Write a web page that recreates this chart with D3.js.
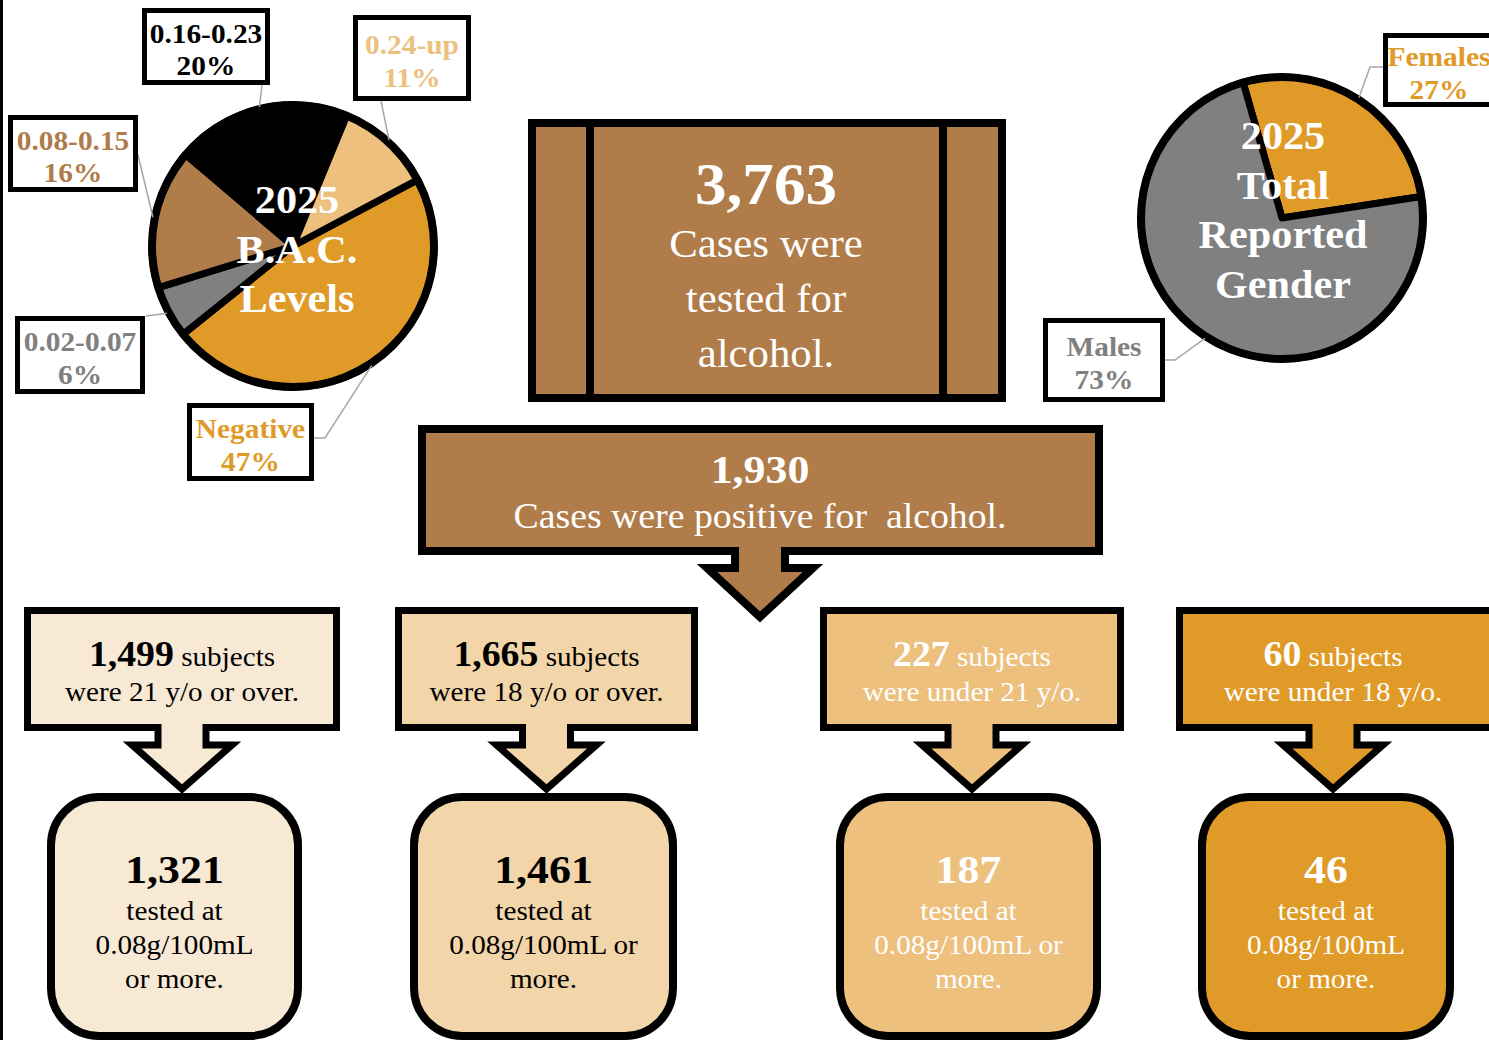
<!DOCTYPE html>
<html>
<head>
<meta charset="utf-8">
<script src="https://cdn.jsdelivr.net/npm/d3@7"></script>
<style>
	body { margin: 0; background: #fff; }
	svg text { font-family: "Liberation Serif", "Times New Roman", serif; }
</style>
</head>
<body>
<div id="chart"></div>
<script>
var width = 1489;
var height = 1040;

// pie data
var bacLabels = ["Negative", "0.02-0.07", "0.08-0.15", "0.16-0.23", "0.24-up"];
var bacValues = [47, 6, 16, 20, 11];
var genderLabels = ["Females", "Males"];
var genderValues = [27, 73];

// flow data
var totalTested = 3763;
var totalPositive = 1930;
var groupCounts = [1499, 1665, 227, 60];
var groupText = ["were 21 y/o or over.", "were 18 y/o or over.", "were under 21 y/o.", "were under 18 y/o."];
var overLimitCounts = [1321, 1461, 187, 46];
var overLimitText = [
	["tested at", "0.08g/100mL", "or more."],
	["tested at", "0.08g/100mL or", "more."],
	["tested at", "0.08g/100mL or", "more."],
	["tested at", "0.08g/100mL", "or more."],
];

// styles
var brown = "#B07C4A";
var orange = "#E09A28";
var tan = "#EDC07E";
var lightTan = "#F2D5A8";
var paleTan = "#F8E9D5";
var grey = "#808080";

var bacColors = d3.scaleOrdinal().domain(bacLabels).range([orange, grey, brown, "#000000", tan]);
var genderColors = d3.scaleOrdinal().domain(genderLabels).range([orange, grey]);
var fmt = d3.format(",");

var svg = d3
	.select("#chart")
	.append("svg")
	.attr("width", width)
	.attr("height", height);

svg.append("rect").attr("x", 0).attr("y", 0).attr("width", 3).attr("height", height).attr("fill", "#000");

// text is a bit wider in the original, so stretch horizontally
function addText(x, y, sx) {
	return svg
		.append("g")
		.attr("transform", `translate(${x},${y}) scale(${sx},1)`)
		.append("text")
		.attr("x", 0)
		.attr("y", 0)
		.attr("text-anchor", "middle");
}

// label box layout for the pies
var bacBoxes = {
	"0.16-0.23": { x: 142, y: 8, w: 128, h: 77, ax: 262, ay: 85 },
	"0.24-up": { x: 353, y: 15, w: 118, h: 86, ax: 381, ay: 101 },
	"0.08-0.15": { x: 8, y: 115, w: 130, h: 77, ax: 138, ay: 155 },
	"0.02-0.07": { x: 15, y: 316, w: 130, h: 78, ax: 146, ay: 316 },
	"Negative": { x: 187, y: 403, w: 127, h: 78, ax: 314, ay: 438, ex: 11 },
};
var genderBoxes = {
	"Females": { x: 1383, y: 33, w: 122, h: 74, ax: 1383, ay: 67, ex: -13, tx: 1439 },
	"Males": { x: 1043, y: 318, w: 122, h: 84, ax: 1165, ay: 360, ex: 10 },
};

function drawPie(cx, cy, r, labels, values, color, startDeg, boxes, title, titleX, titleY) {
	var pie = d3
		.pie()
		.sort(null)
		.value((d) => d.value)
		.startAngle((startDeg * Math.PI) / 180)
		.endAngle((startDeg * Math.PI) / 180 + 2 * Math.PI);
	var arcs = pie(labels.map((l, i) => ({ label: l, value: values[i] })));
	var arc = d3.arc().innerRadius(0).outerRadius(r);

	var g = svg.append("g").attr("transform", `translate(${cx},${cy})`);

	g.selectAll("path")
		.data(arcs)
		.enter()
		.append("path")
		.attr("d", arc)
		.attr("fill", (d) => color(d.data.label))
		.attr("stroke", "#000")
		.attr("stroke-width", 7)
		.attr("stroke-linejoin", "round");

	g.append("circle").attr("r", r).attr("fill", "none").attr("stroke", "#000").attr("stroke-width", 8);

	// leaders + label boxes
	arcs.forEach(function (d) {
		var b = boxes[d.data.label];
		var mid = (d.startAngle + d.endAngle) / 2;
		var px = cx + Math.sin(mid) * (r + 2);
		var py = cy - Math.cos(mid) * (r + 2);
		var pts = [[b.ax, b.ay]];
		if (b.ex) pts.push([b.ax + b.ex, b.ay]);
		pts.push([px, py]);
		svg.append("path")
			.attr("d", d3.line()(pts))
			.attr("stroke", "#A6A6A6")
			.attr("stroke-width", 1.5)
			.attr("fill", "none");
		svg.append("rect")
			.attr("x", b.x + 2.5)
			.attr("y", b.y + 2.5)
			.attr("width", b.w - 5)
			.attr("height", b.h - 5)
			.attr("fill", "#fff")
			.attr("stroke", "#000")
			.attr("stroke-width", 5);
		var t = addText(b.tx || b.x + b.w / 2, b.y + b.h / 2 - 4, 1.05)
			.attr("font-size", "28px")
			.attr("font-weight", "bold")
			.attr("fill", color(d.data.label));
		t.append("tspan").text(d.data.label);
		t.append("tspan")
			.attr("x", 0)
			.attr("dy", 33)
			.text(Math.round(d.data.value) + "%");
	});

	title.forEach(function (line, i) {
		addText(titleX, titleY + i * 49.5, 1.03)
			.attr("font-size", "41px")
			.attr("font-weight", "bold")
			.attr("fill", "#fff")
			.text(line);
	});
}

drawPie(293, 246, 141, bacLabels, bacValues, bacColors, 62, bacBoxes, ["2025", "B.A.C.", "Levels"], 297, 213);
drawPie(1282, 218, 141, genderLabels, genderValues, genderColors, -16, genderBoxes, ["2025", "Total", "Reported", "Gender"], 1283, 149);

// tested box
svg.append("rect")
	.attr("x", 532)
	.attr("y", 123)
	.attr("width", 470)
	.attr("height", 275)
	.attr("fill", brown)
	.attr("stroke", "#000")
	.attr("stroke-width", 8);
[590, 943].forEach(function (x) {
	svg.append("line").attr("x1", x).attr("x2", x).attr("y1", 123).attr("y2", 398).attr("stroke", "#000").attr("stroke-width", 8);
});
addText(766, 204, 1.07)
	.attr("font-size", "59px")
	.attr("font-weight", "bold")
	.attr("fill", "#fff")
	.text(fmt(totalTested));
["Cases were", "tested for", "alcohol."].forEach(function (line, i) {
	addText(766, 257 + i * 55, 1.07)
		.attr("font-size", "40px")
		.attr("fill", "#fff")
		.text(line);
});

// box with arrow outline
function calloutPath(x0, x1, y0, y1, cx, sw, yn, ww, yt) {
	var p = d3.path();
	p.moveTo(x0, y0);
	p.lineTo(x1, y0);
	p.lineTo(x1, y1);
	p.lineTo(cx + sw, y1);
	p.lineTo(cx + sw, yn);
	p.lineTo(cx + ww, yn);
	p.lineTo(cx, yt);
	p.lineTo(cx - ww, yn);
	p.lineTo(cx - sw, yn);
	p.lineTo(cx - sw, y1);
	p.lineTo(x0, y1);
	p.closePath();
	return p.toString();
}

// positive box
svg.append("path")
	.attr("d", calloutPath(422, 1099, 429, 551, 760, 25, 568, 53, 617))
	.attr("fill", brown)
	.attr("stroke", "#000")
	.attr("stroke-width", 8);
addText(760, 483, 1.07)
	.attr("font-size", "41px")
	.attr("font-weight", "bold")
	.attr("fill", "#fff")
	.text(fmt(totalPositive));
addText(760, 528, 1.08)
	.attr("font-size", "35px")
	.attr("fill", "#fff")
	.attr("xml:space", "preserve")
	.text("Cases were positive for  alcohol.");

// group columns
var colFill = [paleTan, lightTan, tan, orange];
var colText = ["#000", "#000", "#fff", "#fff"];
var topBoxes = [
	{ x0: 24, x1: 340 },
	{ x0: 395, x1: 698 },
	{ x0: 820, x1: 1124 },
	{ x0: 1176, x1: 1500, cx: 1333 },
];
var bottomBoxes = [
	{ x0: 47, x1: 302 },
	{ x0: 410, x1: 677 },
	{ x0: 836, x1: 1101 },
	{ x0: 1198, x1: 1454 },
];

groupCounts.forEach(function (count, i) {
	var tbx = topBoxes[i];
	var cx = tbx.cx || (tbx.x0 + tbx.x1) / 2;
	svg.append("path")
		.attr("d", calloutPath(tbx.x0 + 3.5, tbx.x1 - 3.5, 610.5, 727.5, cx, 24, 745, 50, 789))
		.attr("fill", colFill[i])
		.attr("stroke", "#000")
		.attr("stroke-width", 7);
	var t = addText(cx, 666, 1.08).attr("fill", colText[i]);
	t.append("tspan").attr("font-size", "35px").attr("font-weight", "bold").text(fmt(count));
	t.append("tspan").attr("font-size", "27px").text(" subjects");
	addText(cx, 701, 1.08)
		.attr("font-size", "27px")
		.attr("fill", colText[i])
		.text(groupText[i]);

	var bb = bottomBoxes[i];
	var bcx = (bb.x0 + bb.x1) / 2;
	svg.append("rect")
		.attr("x", bb.x0 + 4)
		.attr("y", 797)
		.attr("width", bb.x1 - bb.x0 - 8)
		.attr("height", 239)
		.attr("rx", 48)
		.attr("ry", 48)
		.attr("fill", colFill[i])
		.attr("stroke", "#000")
		.attr("stroke-width", 8);
	addText(bcx, 883, 1.07)
		.attr("font-size", "41px")
		.attr("font-weight", "bold")
		.attr("fill", colText[i])
		.text(fmt(overLimitCounts[i]));
	overLimitText[i].forEach(function (line, j) {
		addText(bcx, 920 + j * 34, 1.08)
			.attr("font-size", "27px")
			.attr("fill", colText[i])
			.text(line);
	});
});
</script>
</body>
</html>
